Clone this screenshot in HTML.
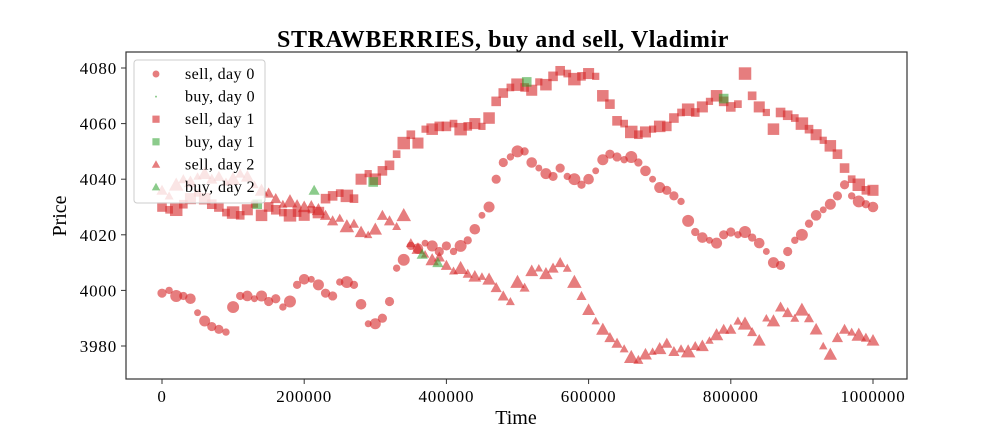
<!DOCTYPE html>
<html><head><meta charset="utf-8"><style>
body{margin:0;background:#fff;}
svg{display:block;font-family:"Liberation Serif",serif;}
</style></head><body>
<svg id="chart" width="1008" height="432">
<rect x="0" y="0" width="1008" height="432" fill="#fff"/>
<text x="503" y="47" text-anchor="middle" font-size="24" font-weight="bold" letter-spacing="0.6">STRAWBERRIES, buy and sell, Vladimir</text>
<g id="plot"></g>
<rect x="126" y="52" width="781" height="327" fill="none" stroke="#333" stroke-width="1.2"/>
<g id="axes"></g>
<text x="516" y="424" text-anchor="middle" font-size="20">Time</text>
<text transform="translate(66,216) rotate(-90)" text-anchor="middle" font-size="20">Price</text>
<g id="legend"></g>
</svg>
<script>
const times=[0,10,20,30,40,50,60,70,80,90,100,110,120,130,140,150,160,170,180,190,200,210,220,230,240,250,260,270,280,290,300,310,320,330,340,350,360,370,380,390,400,410,420,430,440,450,460,470,480,490,500,510,520,530,540,550,560,570,580,590,600,610,620,630,640,650,660,670,680,690,700,710,720,730,740,750,760,770,780,790,800,810,820,830,840,850,860,870,880,890,900,910,920,930,940,950,960,970,980,990,1000];
const sellDay0=[3999,4000,3998,3998,3997,3992,3989,3987,3986,3985,3994,3998,3998,3997,3998,3996,3997,3994,3996,4002,4004,4004,4002,3999,3998,4003,4003,4002,3995,3988,3988,3990,3996,4008,4011,4016,4015,4017,4016,4014,4016,4014,4016,4018,4022,4027,4030,4040,4046,4048,4050,4050,4046,4044,4042,4041,4044,4041,4040,4038,4040,4043,4047,4049,4048,4047,4048,4046,4043,4040,4037,4036,4034,4032,4025,4021,4019,4018,4017,4020,4021,4020,4021,4019,4017,4014,4010,4009,4014,4018,4020,4024,4027,4029,4031,4034,4038,4034,4032,4031,4030];
const sellDay1=[4030,4029,4029,4031,4033,4035,4033,4031,4030,4028,4028,4027,4029,4031,4027,4030,4029,4028,4027,4028,4027,4029,4028,4033,4034,4035,4034,4033,4040,4042,4040,4043,4045,4049,4053,4056,4053,4058,4058,4059,4059,4060,4058,4059,4060,4059,4062,4068,4071,4073,4074,4073,4072,4075,4074,4077,4079,4078,4076,4077,4078,4077,4070,4067,4061,4060,4057,4056,4057,4058,4059,4059,4062,4064,4065,4064,4066,4068,4070,4068,4066,4067,4078,4070,4066,4064,4058,4064,4063,4062,4060,4058,4056,4054,4052,4049,4044,4040,4038,4036,4036];
const sellDay2=[4036,4034,4038,4040,4039,4041,4042,4040,4041,4039,4040,4042,4041,4038,4036,4035,4033,4031,4032,4031,4030,4031,4029,4027,4025,4026,4023,4024,4021,4020,4022,4027,4025,4023,4027,4017,4015,4013,4011,4012,4009,4007,4008,4006,4005,4005,4004,4001,3998,3996,4003,4001,4007,4008,4006,4008,4010,4008,4003,3998,3993,3989,3986,3983,3981,3979,3976,3975,3977,3978,3979,3981,3978,3979,3978,3980,3980,3982,3984,3986,3986,3989,3988,3985,3982,3990,3989,3994,3992,3990,3993,3990,3986,3980,3977,3983,3986,3985,3984,3983,3982];
const buyDay1Times=[134,297,513,790];
const buyDay1Prices=[4031,4039,4075,4069];
const buyDay2Times=[214,366,388];
const buyDay2Prices=[4036,4013,4010];
const xTicks=[0,200000,400000,600000,800000,1000000];
const yTicks=[3980,4000,4020,4040,4060,4080];

const NS="http://www.w3.org/2000/svg";
const X=t=>162+t/1000000*711;
const Y=p=>346-(p-3980)*2.78;
const SZ=[1,0.8,1.3,0.9,1.15,0.75,1.2,1];
const RED="rgba(214,39,40,0.6)", GREEN="rgba(44,160,44,0.55)";
const plot=document.getElementById('plot');
function mk(tag,attrs,parent){const e=document.createElementNS(NS,tag);for(const k in attrs)e.setAttribute(k,attrs[k]);parent.appendChild(e);return e;}
function marker(kind,cx,cy,s,color,parent){
  let e;
  if(kind==='circle'){e=mk('circle',{cx:cx,cy:cy,r:4.6*s,fill:color},parent);}
  else if(kind==='square'){const h=4.8*s;e=mk('rect',{x:cx-h,y:cy-h,width:2*h,height:2*h,fill:color},parent);}
  else {const h=5.6*s;e=mk('polygon',{points:`${cx},${cy-h} ${cx-h},${cy+h*0.8} ${cx+h},${cy+h*0.8}`,fill:color},parent);}
  return e;
}
function series(vals,kind,name){
  vals.forEach((v,i)=>{
    const e=marker(kind,X(times[i]*1000),Y(v),SZ[i%SZ.length],RED,plot);
    
    
  });
}
series(sellDay0,'circle','sell-day0-point');
series(sellDay1,'square','sell-day1-point');
series(sellDay2,'triangle','sell-day2-point');
buyDay1Times.forEach((t,i)=>{
  const e=marker('square',X(t*1000),Y(buyDay1Prices[i]),1,GREEN,plot);
  
  
});
buyDay2Times.forEach((t,i)=>{
  const e=marker('triangle',X(t*1000),Y(buyDay2Prices[i]),1,GREEN,plot);
  
  
});
const axes=document.getElementById('axes');
xTicks.forEach(t=>{
  const l=mk('line',{x1:X(t),x2:X(t),y1:379,y2:384,stroke:'#333'},axes);
  
  
  const tx=mk('text',{x:X(t),y:402,'text-anchor':'middle','font-size':17,'letter-spacing':0.8},axes);
  tx.textContent=t;
  
  
});
yTicks.forEach(p=>{
  const l=mk('line',{x1:121,x2:126,y1:Y(p),y2:Y(p),stroke:'#333'},axes);
  
  
  const tx=mk('text',{x:117,y:Y(p)+6,'text-anchor':'end','font-size':17,'letter-spacing':0.8},axes);
  tx.textContent=p;
  
  
});
const lg=document.getElementById('legend');
mk('rect',{x:134,y:60,width:131,height:143,rx:3,fill:'rgba(255,255,255,0.8)',stroke:'#ccc'},lg);
const entries=[['circle',RED,'sell, day 0'],['dot',GREEN,'buy, day 0'],['square',RED,'sell, day 1'],['square',GREEN,'buy, day 1'],['triangle',RED,'sell, day 2'],['triangle',GREEN,'buy, day 2']];
entries.forEach((en,i)=>{
  const y=74+i*22.6;
  const g=mk('g',{},lg);
  
  
  if(en[0]==='dot')mk('circle',{cx:156,cy:y,r:1,fill:en[1]},g);
  else marker(en[0],156,y,0.75,en[1],g);
  const t=mk('text',{x:185,y:y+5,'font-size':16,'letter-spacing':0.4},g);
  t.textContent=en[2];
});
</script>
</body></html>
